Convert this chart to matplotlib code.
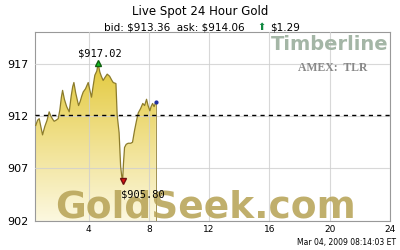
import numpy as np
import matplotlib
matplotlib.use('Agg')
import matplotlib.pyplot as plt
from matplotlib.colors import LinearSegmentedColormap

# gold price over the day (hours since midnight ET)
hours = [0.5, 0.62, 0.73, 0.85, 0.95, 1.1, 1.25, 1.39, 1.5, 1.62, 1.72, 1.85,
         1.99, 2.1, 2.2, 2.28, 2.4, 2.55, 2.72, 2.85, 2.95, 3.03, 3.15, 3.34,
         3.45, 3.55, 3.65, 3.8, 3.98, 4.1, 4.2, 4.3, 4.42, 4.55, 4.64, 4.75,
         4.85, 4.97, 5.1, 5.24, 5.4, 5.55, 5.64, 5.82, 5.9, 6.03, 6.13, 6.2,
         6.26, 6.32, 6.39, 6.5, 6.63, 6.8, 6.92, 7.05, 7.19, 7.3, 7.45, 7.6,
         7.72, 7.85, 7.95, 8.07, 8.15, 8.25, 8.35, 8.47]
prices = [911.1, 911.6, 911.75, 910.9, 910.2, 911.0, 911.6, 912.4, 912.0, 911.7,
          911.5, 911.6, 911.75, 912.6, 913.8, 914.45, 913.6, 912.9, 912.4, 913.9,
          914.8, 915.2, 914.2, 913.0, 913.4, 913.9, 914.3, 914.6, 915.2, 914.4,
          913.8, 914.8, 915.9, 916.3, 917.02, 916.2, 915.8, 915.4, 915.7, 916.0,
          915.8, 915.4, 915.2, 915.1, 912.1, 910.4, 907.2, 906.3, 905.8, 907.5,
          909.0, 909.3, 909.4, 909.4, 909.5, 910.6, 911.6, 912.3, 912.7, 913.2,
          913.0, 913.6, 913.0, 912.5, 912.9, 913.2, 912.9, 913.36]
prev_close = 912.07
high_label = r"\$917.02"
low_label = r"\$905.80"
xticks = [4, 8, 12, 16, 20, 24]
yticks = [902, 907, 912, 917]

fig = plt.figure(figsize=(4, 2.5), dpi=100)
ax = fig.add_axes([0.0875, 0.117, 0.8875, 0.754])

# gradient fill under the curve
cmap = LinearSegmentedColormap.from_list('gold', ['#fcf8e0', '#f0e08c', '#e2c838'])
grad = np.linspace(0, 1, 256).reshape(-1, 1)
poly = ax.fill_between(hours, prices, 902, color='none', lw=0)
img = ax.imshow(grad, extent=[0.45, 24, 902, 917.5], origin='lower', aspect='auto',
                cmap=cmap, zorder=1)
img.set_clip_path(poly.get_paths()[0], transform=ax.transData)
ax.set_xlim(0.45, 24)
ax.set_ylim(902, 920)
ax.plot(hours, prices, color='#8c7c2c', lw=0.9, zorder=3)
ax.vlines(hours[-1], 902, prices[-1], color='#a09050', lw=0.7, zorder=3)

ax.grid(True, color='#cfcfcf', lw=0.8, alpha=0.8, zorder=2)
ax.set_axisbelow(False)
ax.axhline(prev_close, color='black', lw=1, ls=(0, (3, 3)), zorder=4)

# hi / lo markers
i_hi = int(np.argmax(prices))
i_lo = int(np.argmin(prices))
ax.plot(hours[i_hi], prices[i_hi], marker='^', color='#10c020', mec='#106010',
        ms=5, zorder=5)
ax.plot(hours[i_lo], prices[i_lo], marker='v', color='#e01010', mec='#701010',
        ms=5, zorder=5)
ax.plot(hours[-1], prices[-1], marker='o', color='#2030a0', ms=2, zorder=5)
ax.text(hours[i_hi] + 0.1, prices[i_hi] + 0.45, high_label, ha='center', va='bottom',
        fontsize=7.5, family='DejaVu Sans Mono', zorder=7)
ax.text(hours[i_lo] - 0.1, prices[i_lo] - 0.85, low_label, ha='left', va='top',
        fontsize=7.5, family='DejaVu Sans Mono', zorder=7)

# watermarks
ax.text(0.056, 0.018, "GoldSeek.com", transform=ax.transAxes, fontsize=27,
        fontweight='bold', color='#b8a458', alpha=0.88, ha='left', va='baseline',
        zorder=6)
ax.text(0.995, 0.985, "Timberline", transform=ax.transAxes, fontsize=14,
        fontweight='bold', color='#a4b6a6', ha='right', va='top', zorder=6)
ax.text(0.935, 0.84, "AMEX:  TLR", transform=ax.transAxes, fontsize=8.5,
        fontweight='bold', family='Liberation Serif', color='#888888',
        ha='right', va='top', zorder=6)

ax.set_xticks(xticks)
ax.set_yticks(yticks)
ax.tick_params(length=0, labelsize=6.5, pad=3)
ax.tick_params(axis='y', labelsize=8, pad=5)
for s in ax.spines.values():
    s.set_color('#999999')

fig.text(0.5, 0.955, "Live Spot 24 Hour Gold", ha='center', va='center', fontsize=8.5)
fig.text(0.26, 0.89, r"bid: \$913.36  ask: \$914.06", ha='left', va='center', fontsize=7.5)
fig.text(0.653, 0.893, "\u2b06", ha='center', va='center', fontsize=7, color='#108840')
fig.text(0.675, 0.89, r"\$1.29", ha='left', va='center', fontsize=7.5)
fig.text(0.99, 0.03, "Mar 04, 2009 08:14:03 ET", ha='right', va='center', fontsize=5.5)

fig.savefig('out.png', dpi=100)
